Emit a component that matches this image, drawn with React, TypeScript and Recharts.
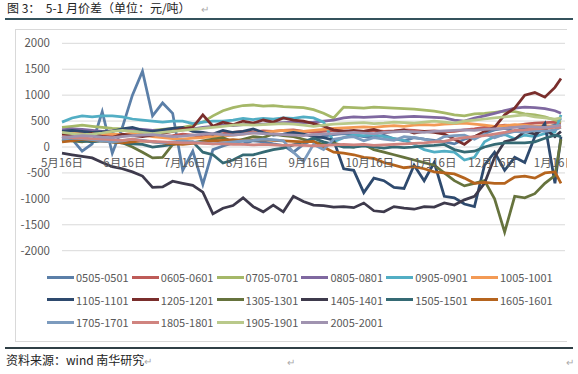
import React from "react";
import { LineChart, Line, XAxis, YAxis, CartesianGrid } from "recharts";

// day offset from 5月16日, sampled every 5 days
const days = [
  0, 5, 10, 15, 20, 25, 30, 35, 40, 45, 50, 55, 60, 65, 70, 75, 80, 85, 90, 95,
  100, 105, 110, 115, 120, 125, 130, 135, 140, 145, 150, 155, 160, 165, 170, 175,
  180, 185, 190, 195, 200, 205, 210, 215, 220, 225, 230, 235, 240, 245, 248,
];

const tickDays = [0, 31, 61, 92, 123, 153, 184, 214, 245];
const tickLabels = ["5月16日", "6月16日", "7月16日", "8月16日", "9月16日", "10月16日", "11月16日", "12月16日", "1月16日"];

const s0505 = [200,150,-80,60,680, -120,380,1000,1460,600, 850,650,-450,-80,-720, -50,20,80,60,120, 100,60,30,-100,50, 150,210,240,260,230, 200,180,230,160,120, 180,150,130,100,60, 150,200,260,330,360, 300,380,330,360,430, 560];
const s0605 = [280,260,240,250,230, 220,240,260,250,230, 200,220,250,230,200, 220,260,280,300,290, 310,300,320,330,300, 280,300,320,310,290, 300,320,300,310,330, 320,300,310,290,300, 330,350,380,400,420, 410,440,460,470,480, 450];
const s0705 = [380,400,420,400,380, 360,350,330,300,320, 340,360,380,420,480, 600,700,760,800,810, 790,800,780,770,760, 720,650,560,770,760, 750,770,760,750,740, 730,710,690,660,620, 600,640,650,670,690, 680,640,620,580,520, 480];
const s0805 = [330,350,340,320,300, 310,330,350,340,320, 300,310,330,350,380, 400,420,410,430,450, 440,460,470,480,470, 480,500,520,560,580, 570,580,590,570,580, 590,580,570,560,520, 500,560,600,650,700, 750,770,760,740,700, 650];
const s0905 = [480,560,600,580,600, 600,580,540,520,500, 480,500,500,450,480, 500,500,520,550,530, 550,540,560,550,580, 560,480,100,180,230, 220,240,200,160,130, 50,-50,-100,-80,-100, -250,-200,100,200,240, 160,230,200,260,290, 620];
const s1005 = [280,300,290,270,260, 250,240,260,230,200, 180,160,150,170,180, 200,210,230,250,270, 280,300,320,310,300, 320,340,360,370,380, 390,380,400,410,400, 420,430,420,440,450, 460,440,420,400,410, 430,420,400,410,400, 380];
const s1105 = [300,320,300,280,290, 300,350,380,320,300, 330,360,380,300,280, 250,320,280,300,350, 280,230,250,280,250, 200,180,130,-420,-450, -880,-600,-650,-780,-800, -350,-650,-300,-950,-980, -1100,-1150,-350,-100,-450, -200,-300,200,450,-700, 200];
const s1205 = [250,230,220,260,200, 180,250,220,200,230, 260,300,350,380,620, 400,480,430,500,460, 520,480,560,520,500, 450,400,330,300,320, 300,340,280,300,330, 270,300,280,250,150, 50,200,300,380,620, 750,1000,1050,960,1150, 1320];
const s1305 = [150,120,100,130,150, 100,80,0,-100,-210, -200,50,100,80,120, 150,180,100,150,200, 180,250,220,200,150, 100,50,80,20,0, 50,-50,-100,-150,-200, -250,-300,-350,-500,-650, -750,-700,-650,-1000,-1640, -950,-980,-900,-700,-550, 150];
const s1405 = [-120,-150,-180,-210,-300, -380,-420,-480,-560,-780, -770,-660,-700,-740,-870, -1290,-1180,-1130,-980,-1150, -1250,-1120,-1250,-950,-1050, -1120,-1130,-1160,-1150,-1170, -1080,-1230,-1250,-1150,-1180, -1200,-1150,-1160,-1080,-1120, -1020,-950,-700,-200,100, 150,300,250,350,200, 300];
const s1505 = [150,130,120,100,120, 100,80,60,50,0, 20,50,80,100,-100, -150,-310,-250,-150,-150, -100,-50,-20,40,100, 170,100,50,0,0, 20,0,-20,0,-10, 0,20,30,50,-50, -100,-80,0,50,80, 80,80,100,170,230, 200];
const s1605 = [100,120,150,130,120, 100,80,100,120,100, 80,60,50,70,100, 120,130,140,130,135, 140,130,120,110,100, 110,0,-100,-120,-150, -200,-220,-300,-350,-400, -380,-420,-480,-500,-520, -600,-700,-680,-700,-700, -580,-560,-600,-500,-480, -700];
const s1705 = [150,170,160,140,120, 100,120,150,130,100, 80,100,120,100,80, 60,80,100,120,130, 150,140,120,-100,-280, 50,-50,150,180,200, 120,180,150,130,200, 180,150,100,200,220, 230,150,250,180,250, 300,280,320,300,330, 380];
const s1805 = [200,180,170,160,150, 140,130,150,120,110, 100,90,80,80,70, 60,60,50,50,40, 50,40,30,40,30, 20,30,40,50,40, 50,30,40,50,60, 70,80,100,110,150, 180,200,220,250,280, 320,330,350,360,380, 380];
const s1905 = [280,260,240,250,270, 300,320,300,280,260, 280,300,320,340,360, 380,400,420,430,420, 430,440,450,440,420, 400,420,440,450,460, 470,450,460,480,470, 460,480,500,480,460, 500,520,540,560,580, 600,620,580,560,540, 560];
const s2005 = [180,200,220,210,190, 180,200,220,230,240, 220,200,210,230,250, 260,240,230,250,270, 260,250,240,230,220, 240,250,260,270,280, 270,260,280,290,300, 290,280,300,310,320, 330,320,340,350,360, 380,400,390,380,400, 420];

const seriesNames = [
  "0505-0501", "0605-0601", "0705-0701", "0805-0801", "0905-0901", "1005-1001",
  "1105-1101", "1205-1201", "1305-1301", "1405-1401", "1505-1501", "1605-1601",
  "1705-1701", "1805-1801", "1905-1901", "2005-2001",
];
const seriesValues = [
  s0505, s0605, s0705, s0805, s0905, s1005, s1105, s1205,
  s1305, s1405, s1505, s1605, s1705, s1805, s1905, s2005,
];

const COLORS = [
  "#5B7FA8", "#BE5B58", "#A5B868", "#7F68A0", "#52AEC4", "#F39A55",
  "#2E4A6E", "#7A2E2C", "#66733D", "#3E3A4C", "#356A74", "#B5641E",
  "#7C9BBE", "#D0847F", "#B9C98A", "#A093B0",
];

const yTicks = [-2000, -1500, -1000, -500, 0, 500, 1000, 1500, 2000];

const data = days.map((day, i) => {
  const row: Record<string, number> = { day };
  seriesNames.forEach((name, k) => {
    row[name] = seriesValues[k][i];
  });
  return row;
});

const CHART_W = 570;
const CHART_H = 230;
const PLOT_TOP = 13.3;
const X_AXIS_H = 9.3;
const PLOT_H = CHART_H - PLOT_TOP - X_AXIS_H;
const ZERO_Y = PLOT_TOP + PLOT_H / 2;

const font = '"Noto Sans CJK SC", "Liberation Sans", sans-serif';

// category labels sit under the zero line, as in Excel
const XTick = (props: any) => {
  const { x, payload } = props;
  const idx = tickDays.indexOf(payload.value);
  return (
    <text x={x} y={ZERO_Y + 20} textAnchor="middle" fontSize={11.5} fill="#595959" fontFamily={font}>
      {tickLabels[idx]}
    </text>
  );
};

export default function App() {
  return (
    <div style={{ position: "absolute", left: 0, top: 0, width: 578, height: 374, background: "#fff", fontFamily: font }}>
      <div style={{ position: "absolute", left: 7, top: 0, fontSize: 12, color: "#222", whiteSpace: "pre", lineHeight: "15px" }}>
        图 3：  5-1 月价差（单位：元/吨）
      </div>
      <div style={{ position: "absolute", left: 201, top: 1, fontSize: 10, color: "#aaa" }}>↵</div>
      <div style={{ position: "absolute", left: 5, top: 18, width: 568, height: 2, background: "#34525C" }} />

      <div
        style={{
          position: "absolute", left: 15, top: 29, width: 552, height: 313, boxSizing: "border-box",
          borderLeft: "1px solid #D9D9D9", borderTop: "1px solid #D9D9D9", borderBottom: "1px solid #D9D9D9",
          overflow: "hidden",
        }}
      >
        <div style={{ position: "absolute", left: 0, top: 0 }}>
          <LineChart width={CHART_W} height={CHART_H} data={data} margin={{ top: PLOT_TOP, right: 21, bottom: 0, left: 0 }}>
            <CartesianGrid vertical={false} stroke="#D9D9D9" />
            <XAxis
              dataKey="day"
              type="number"
              domain={[0, 250]}
              ticks={tickDays}
              interval={0}
              height={X_AXIS_H}
              axisLine={false}
              tickLine={false}
              tick={<XTick />}
            />
            <YAxis
              domain={[-2000, 2000]}
              ticks={yTicks}
              width={46}
              axisLine={false}
              tickLine={false}
              tickMargin={6}
              tick={{ fontSize: 11.5, fill: "#595959", fontFamily: font }}
            />
            {seriesNames.map((name, k) => (
              <Line
                key={name}
                dataKey={name}
                stroke={COLORS[k]}
                strokeWidth={2.75}
                dot={false}
                isAnimationActive={false}
              />
            ))}
          </LineChart>
        </div>

        {seriesNames.map((name, k) => {
          const col = k % 6;
          const row = Math.floor(k / 6);
          return (
            <div
              key={name}
              style={{
                position: "absolute", left: 31 + col * 84.8, top: 240 + row * 22.7, height: 14,
                display: "flex", alignItems: "center", fontSize: 11, color: "#595959", whiteSpace: "nowrap",
              }}
            >
              <span style={{ display: "inline-block", width: 27, height: 3, background: COLORS[k], marginRight: 2 }} />
              {name}
            </div>
          );
        })}
      </div>

      <div style={{ position: "absolute", left: 5, top: 347, width: 568, height: 1.5, background: "#2F3F45" }} />
      <div style={{ position: "absolute", left: 6, top: 352, fontSize: 12, color: "#222", lineHeight: "16px" }}>
        资料来源：wind 南华研究<span style={{ color: "#aaa", fontSize: 10 }}>↵</span>
      </div>
      <div style={{ position: "absolute", left: 287, top: 354, fontSize: 10, color: "#aaa" }}>↵</div>
      <div style={{ position: "absolute", left: 566, top: 354, fontSize: 10, color: "#aaa" }}>↵</div>
    </div>
  );
}
